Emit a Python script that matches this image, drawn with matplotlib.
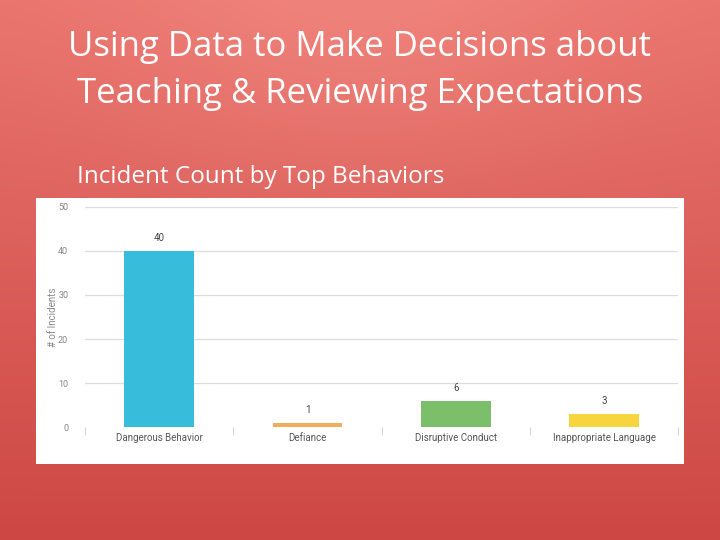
"""
Slide recreation: incident count by top behaviors.
"""
import matplotlib
matplotlib.use("Agg")
import matplotlib.pyplot as plt
import matplotlib.patches as mpatches
import numpy as np

behaviors = ["Dangerous Behavior", "Defiance", "Disruptive Conduct", "Inappropriate Language"]
counts = [40, 1, 6, 3]
bar_colors = ["#38bcdc", "#f0ad5c", "#7cbf6a", "#f6d53e"]
y_ticks = [0, 10, 20, 30, 40, 50]

title = "Using Data to Make Decisions about\nTeaching & Reviewing Expectations"
subtitle = "Incident Count by Top Behaviors"

fig = plt.figure(figsize=(7.2, 5.4), dpi=100)

# -- background gradient -------------------------------------------------------
bg = fig.add_axes([0, 0, 1, 1])
bg.set_axis_off()
h, w = 270, 360
yy, xx = np.mgrid[0:h, 0:w]
t = yy / (h - 1)
top = np.array([233, 115, 109]) / 255
bot = np.array([205, 72, 69]) / 255
img = top[None, None, :] * (1 - t[..., None]) + bot[None, None, :] * t[..., None]
glow = np.exp(-(((xx - w / 2) / (w * 0.35)) ** 2 + (yy / (h * 0.35)) ** 2))
img = img + (np.array([6, 16, 14]) / 255)[None, None, :] * glow[..., None]
bg.imshow(np.clip(img, 0, 1), extent=[0, 1, 0, 1], aspect="auto", origin="upper")
bg.set_xlim(0, 1)
bg.set_ylim(0, 1)

fig.text(0.5, 0.870, title, ha="center", va="center", color="white",
         fontsize=25, family="Open Sans", linespacing=1.5)
fig.text(0.107, 0.673, subtitle, ha="left", va="center", color="white",
         fontsize=17.5, family="Open Sans")

# white chart panel
fig.patches.append(mpatches.Rectangle((0.05, 0.1407), 0.9, 0.4926,
                                      transform=fig.transFigure,
                                      facecolor="white", edgecolor="none", zorder=1))

# -- chart ---------------------------------------------------------------------
ax = fig.add_axes([0.118, 0.209, 0.824, 0.408])
ax.set_facecolor("none")
ax.set_zorder(2)
x = np.arange(len(behaviors))
ax.bar(x, counts, width=0.47, color=bar_colors, zorder=3)
for xi, c in zip(x, counts):
    ax.text(xi, c + 1.8, str(c), ha="center", va="bottom", color="#444444",
            fontsize=7, family="Roboto")

ax.set_xlim(-0.5, len(behaviors) - 0.5)
ax.set_ylim(0, 50)
ax.set_yticks(y_ticks)
ax.set_yticklabels([str(v) for v in y_ticks], color="#888888", fontsize=6.5, family="Roboto")
for v in y_ticks[1:]:
    ax.axhline(v, color="#dddddd", lw=0.9, zorder=1)
ax.set_xticks(x)
ax.set_xticklabels(behaviors, color="#555555", fontsize=7, family="Roboto")
ax.set_xticks(np.arange(-0.5, len(behaviors)), minor=True)
ax.tick_params(axis="x", which="major", length=0, pad=4)
ax.tick_params(axis="x", which="minor", length=6, color="#cccccc", direction="out")
ax.tick_params(axis="y", length=0, pad=12)
for sp in ax.spines.values():
    sp.set_visible(False)
ax.set_ylabel("# of Incidents", color="#888888", fontsize=7, family="Roboto", labelpad=0)

plt.savefig("out.png", dpi=100)
plt.close()
